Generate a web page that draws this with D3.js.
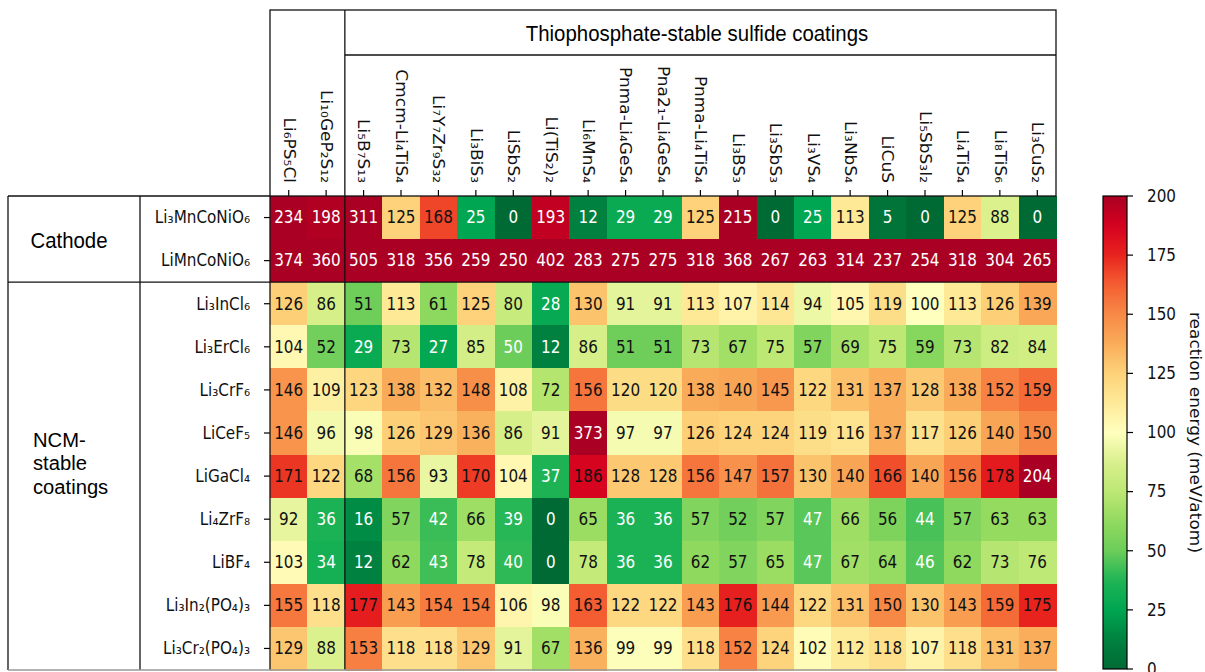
<!DOCTYPE html>
<html>
<head>
<meta charset="utf-8">
<script src="https://cdn.jsdelivr.net/npm/d3@7"></script>
<style>
  html, body { margin: 0; padding: 0; background: #fff; }
  svg { display: block; }
  text { font-family: "DejaVu Sans", sans-serif; fill: #111; }
  .sans { font-family: "Liberation Sans", Arial, sans-serif; }
</style>
</head>
<body>
<svg id="chart" width="1205" height="672"></svg>
<script>
// Sulfide coatings (columns) and cathode / NCM-stable materials (rows)
const coatings = [
  "Li₆PS₅Cl", "Li₁₀GeP₂S₁₂", "Li₅B₇S₁₃", "Cmcm-Li₄TiS₄", "Li₇Y₇Zr₉S₃₂",
  "Li₃BiS₃", "LiSbS₂", "Li(TiS₂)₂", "Li₆MnS₄", "Pnma-Li₄GeS₄",
  "Pna2₁-Li₄GeS₄", "Pnma-Li₄TiS₄", "Li₃BS₃", "Li₃SbS₃", "Li₃VS₄",
  "Li₃NbS₄", "LiCuS", "Li₅SbS₃I₂", "Li₄TiS₄", "Li₈TiS₆", "Li₃CuS₂"
];
const materials = [
  "Li₃MnCoNiO₆", "LiMnCoNiO₆", "Li₃InCl₆", "Li₃ErCl₆", "Li₃CrF₆", "LiCeF₅",
  "LiGaCl₄", "Li₄ZrF₈", "LiBF₄", "Li₃In₂(PO₄)₃", "Li₃Cr₂(PO₄)₃"
];

// Reaction energies (meV/atom), one array per row material
const li3MnCoNiO6 = [234, 198, 311, 125, 168, 25, 0, 193, 12, 29, 29, 125, 215, 0, 25, 113, 5, 0, 125, 88, 0];
const liMnCoNiO6  = [374, 360, 505, 318, 356, 259, 250, 402, 283, 275, 275, 318, 368, 267, 263, 314, 237, 254, 318, 304, 265];
const li3InCl6    = [126, 86, 51, 113, 61, 125, 80, 28, 130, 91, 91, 113, 107, 114, 94, 105, 119, 100, 113, 126, 139];
const li3ErCl6    = [104, 52, 29, 73, 27, 85, 50, 12, 86, 51, 51, 73, 67, 75, 57, 69, 75, 59, 73, 82, 84];
const li3CrF6     = [146, 109, 123, 138, 132, 148, 108, 72, 156, 120, 120, 138, 140, 145, 122, 131, 137, 128, 138, 152, 159];
const liCeF5      = [146, 96, 98, 126, 129, 136, 86, 91, 373, 97, 97, 126, 124, 124, 119, 116, 137, 117, 126, 140, 150];
const liGaCl4     = [171, 122, 68, 156, 93, 170, 104, 37, 186, 128, 128, 156, 147, 157, 130, 140, 166, 140, 156, 178, 204];
const li4ZrF8     = [92, 36, 16, 57, 42, 66, 39, 0, 65, 36, 36, 57, 52, 57, 47, 66, 56, 44, 57, 63, 63];
const liBF4       = [103, 34, 12, 62, 43, 78, 40, 0, 78, 36, 36, 62, 57, 65, 47, 67, 64, 46, 62, 73, 76];
const li3In2PO43  = [155, 118, 177, 143, 154, 154, 106, 98, 163, 122, 122, 143, 176, 144, 122, 131, 150, 130, 143, 159, 175];
const li3Cr2PO43  = [129, 88, 153, 118, 118, 129, 91, 67, 136, 99, 99, 118, 152, 124, 102, 112, 118, 107, 118, 131, 137];
const energyRows = [li3MnCoNiO6, liMnCoNiO6, li3InCl6, li3ErCl6, li3CrF6, liCeF5,
                    liGaCl4, li4ZrF8, liBF4, li3In2PO43, li3Cr2PO43];

const colorbarTicks = [0, 25, 50, 75, 100, 125, 150, 175, 200];
const colorbarLabel = "reaction energy (meV/atom)";
const headerTitle = "Thiophosphate-stable sulfide coatings";
const groupCathode = "Cathode";
const groupNcm = ["NCM-", "stable", "coatings"];

// green -> yellow -> red colour ramp, clamped to 0..200
const rampValues = [0, 12.5, 25, 37.5, 50, 62.5, 75, 87.5, 100, 112.5, 125, 137.5, 150, 162.5, 175, 187.5, 200];
const rampColors = ["#006a35", "#00823f", "#00a651", "#1eb455", "#6ccd5a", "#92da5f", "#bde874", "#d9f08c",
                    "#ffffbe", "#feea98", "#fdd27a", "#faac5a", "#f78946", "#f45f32", "#e8231e", "#d5001f", "#aa0023"];
const color = d3.scaleLinear().domain(rampValues).range(rampColors)
  .interpolate(d3.interpolateRgb).clamp(true);

// layout
const SX = 0.895;           // horizontal squeeze applied to the glyphs
const FS = 17;              // body font size
const grid = { left: 270, right: 1056, top: 196, bottom: 670 };
const svg = d3.select("#chart");

const x = d3.scaleBand().domain(d3.range(coatings.length)).range([grid.left, grid.right]);
const y = d3.scaleBand().domain(d3.range(materials.length)).range([grid.top, grid.bottom]);

const cells = [];
energyRows.forEach((row, r) => row.forEach((v, c) => cells.push({ r, c, v })));

// heatmap cells
svg.append("g").selectAll("rect").data(cells).join("rect")
  .attr("x", d => x(d.c))
  .attr("y", d => y(d.r))
  .attr("width", x.bandwidth() + 0.5)
  .attr("height", y.bandwidth() + 0.5)
  .attr("fill", d => color(d.v))
  .attr("shape-rendering", "crispEdges");

// value annotations
svg.append("g").selectAll("text").data(cells).join("text")
  .attr("transform", d => `translate(${x(d.c) + x.bandwidth() / 2},${y(d.r) + y.bandwidth() / 2}) scale(${SX},1)`)
  .attr("text-anchor", "middle")
  .attr("dominant-baseline", "central")
  .style("font-size", FS + "px")
  .style("fill", d => (d.v <= 50 || d.v >= 190) ? "#ffffff" : "#111111")
  .text(d => d.v);

// row axis ticks and labels
const yAxis = svg.append("g");
yAxis.selectAll("line").data(materials).join("line")
  .attr("x1", grid.left - 6).attr("x2", grid.left)
  .attr("y1", (d, i) => y(i) + y.bandwidth() / 2)
  .attr("y2", (d, i) => y(i) + y.bandwidth() / 2)
  .attr("stroke", "#000").attr("stroke-width", 1.2);
yAxis.selectAll("text").data(materials).join("text")
  .attr("transform", (d, i) => `translate(${grid.left - 20},${y(i) + y.bandwidth() / 2}) scale(${SX},1)`)
  .attr("text-anchor", "end")
  .attr("dominant-baseline", "central")
  .style("font-size", FS + "px")
  .text(d => d);

// column axis ticks and rotated labels
const xAxis = svg.append("g");
xAxis.selectAll("line").data(coatings).join("line")
  .attr("x1", (d, i) => x(i) + x.bandwidth() / 2)
  .attr("x2", (d, i) => x(i) + x.bandwidth() / 2)
  .attr("y1", grid.top - 6).attr("y2", grid.top)
  .attr("stroke", "#000").attr("stroke-width", 1.2);
xAxis.selectAll("text").data(coatings).join("text")
  .attr("transform", (d, i) => `translate(${x(i) + x.bandwidth() / 2},${grid.top - 13}) scale(${SX},1) rotate(90)`)
  .attr("text-anchor", "end")
  .attr("dominant-baseline", "central")
  .style("font-size", FS + "px")
  .text(d => d);

// group frames
const split = x(2);            // boundary after the two thiophosphate electrolytes
const groupSplit = y(2);       // boundary between cathodes and NCM-stable coatings
const frame = svg.append("g").attr("fill", "none").attr("stroke", "#111").attr("stroke-width", 1.3);
frame.append("rect").attr("x", grid.left).attr("y", 10).attr("width", grid.right - grid.left).attr("height", grid.top - 10);
frame.append("line").attr("x1", split).attr("x2", split).attr("y1", 10).attr("y2", grid.bottom);
frame.append("line").attr("x1", split).attr("x2", grid.right).attr("y1", 55).attr("y2", 55);
frame.append("line").attr("x1", 8).attr("x2", grid.left).attr("y1", grid.top).attr("y2", grid.top);
frame.append("line").attr("x1", 8).attr("x2", 8).attr("y1", grid.top).attr("y2", grid.bottom);
frame.append("line").attr("x1", 140).attr("x2", 140).attr("y1", grid.top).attr("y2", grid.bottom);
frame.append("line").attr("x1", grid.left).attr("x2", grid.left).attr("y1", grid.top).attr("y2", grid.bottom);
frame.append("line").attr("x1", 8).attr("x2", grid.right).attr("y1", groupSplit).attr("y2", groupSplit);
frame.append("line").attr("x1", 8).attr("x2", grid.right).attr("y1", grid.bottom).attr("y2", grid.bottom)
  .attr("stroke", "#999");

// group titles
const titleFs = 22.8;
svg.append("text").attr("class", "sans")
  .attr("transform", `translate(697,33) scale(${SX},1)`)
  .attr("text-anchor", "middle").attr("dominant-baseline", "central")
  .style("font-size", titleFs + "px").style("fill", "#000")
  .text(headerTitle);
svg.append("text").attr("class", "sans")
  .attr("transform", `translate(69,240) scale(${SX},1)`)
  .attr("text-anchor", "middle").attr("dominant-baseline", "central")
  .style("font-size", titleFs + "px").style("fill", "#000")
  .text(groupCathode);
// three-line group label
svg.append("g").selectAll("text").data(groupNcm).join("text").attr("class", "sans")
  .attr("transform", (d, i) => `translate(33,${440 + i * 23.5}) scale(1.01,1)`)
  .attr("text-anchor", "start").attr("dominant-baseline", "central")
  .style("font-size", "20px").style("fill", "#000")
  .text(d => d);

// colour bar
const cb = { x: 1103, w: 24, top: 196, bottom: 669 };
const cbScale = d3.scaleLinear().domain([0, 200]).range([cb.bottom, cb.top]);
const grad = svg.append("defs").append("linearGradient")
  .attr("id", "energyRamp").attr("x1", 0).attr("y1", 1).attr("x2", 0).attr("y2", 0);
grad.selectAll("stop").data(d3.range(0, 201, 5)).join("stop")
  .attr("offset", d => d / 200)
  .attr("stop-color", d => color(d));
svg.append("rect")
  .attr("x", cb.x).attr("y", cb.top).attr("width", cb.w).attr("height", cb.bottom - cb.top)
  .attr("fill", "url(#energyRamp)").attr("stroke", "#000").attr("stroke-width", 1.2);
const cbAxis = svg.append("g");
cbAxis.selectAll("line").data(colorbarTicks).join("line")
  .attr("x1", cb.x + cb.w).attr("x2", cb.x + cb.w + 6)
  .attr("y1", d => cbScale(d)).attr("y2", d => cbScale(d))
  .attr("stroke", "#000").attr("stroke-width", 1.2);
cbAxis.selectAll("text").data(colorbarTicks).join("text")
  .attr("transform", d => `translate(${cb.x + cb.w + 20},${cbScale(d)}) scale(${SX},1)`)
  .attr("text-anchor", "start").attr("dominant-baseline", "central")
  .style("font-size", FS + "px")
  .text(d => d);
svg.append("text")
  .attr("transform", `translate(1195,${(cb.top + cb.bottom) / 2}) scale(${SX},1) rotate(90)`)
  .attr("text-anchor", "middle").attr("dominant-baseline", "central")
  .style("font-size", FS + "px")
  .text(colorbarLabel);
</script>
</body>
</html>
